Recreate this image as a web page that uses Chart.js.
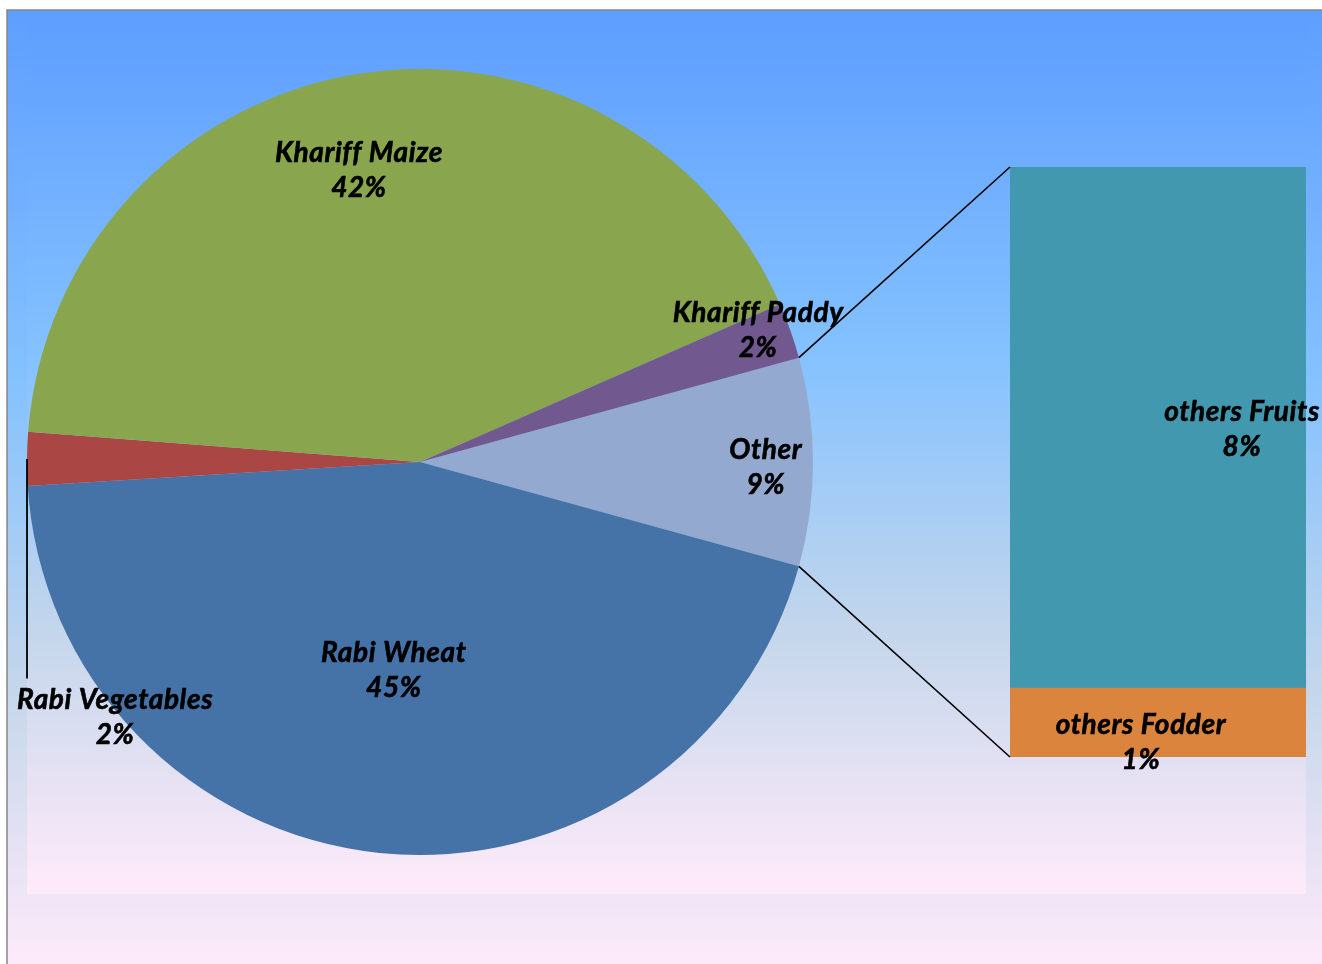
<!DOCTYPE html>
<html>
<head>
<meta charset="utf-8">
<script src="https://cdn.jsdelivr.net/npm/chart.js@4.4.1/dist/chart.umd.min.js"></script>
<style>
  html, body { margin: 0; padding: 0; background: #ffffff; }
  #wrap { position: relative; width: 1322px; height: 964px; overflow: hidden; }
  canvas { position: absolute; left: 0; top: 0; }
</style>
</head>
<body>
<div id="wrap">
  <canvas id="pie" width="1322" height="964"></canvas>
  <canvas id="bar" width="1322" height="964"></canvas>
</div>
<script>
// ---- data ----
const pieCategories = ["Rabi Wheat", "Rabi Vegetables", "Khariff Maize", "Khariff Paddy"];
const pieValues     = [44.75, 2.2, 42.2, 2.3];
const otherCategories = ["others Fodder", "others Fruits"];
const otherValues     = [1.0, 7.55];
const otherLabel = "Other";

// ---- styles ----
const pieColors = { "Other": "#93A9CF", "Rabi Wheat": "#4572A7", "Rabi Vegetables": "#AA4643",
                    "Khariff Maize": "#89A54E", "Khariff Paddy": "#71588F" };
const barColors = { "others Fodder": "#DB843D", "others Fruits": "#4198AF" };
const LABEL_FONT = "italic bold 28px Lato";
const LINE_GAP = 35;

const otherTotal = otherValues.reduce((a, b) => a + b, 0);
const grandTotal = pieValues.reduce((a, b) => a + b, 0) + otherTotal;
const pct = v => Math.round(v / grandTotal * 100) + "%";

const pieLabels = [otherLabel].concat(pieCategories);
const pieData = [otherTotal].concat(pieValues);
const otherDeg = otherTotal / grandTotal * 360;

// label placement (polar, relative to slice mid-angle)
const pieLabelPlacement = {
  "Other":           { frac: 0.880, dAngle: 0.9 },
  "Rabi Wheat":      { frac: 0.535, dAngle: 1.2 },
  "Rabi Vegetables": { frac: 1.013, dAngle: -40.45, leader: true },
  "Khariff Maize":   { frac: 0.758, dAngle: -2.2 },
  "Khariff Paddy":   { frac: 0.923, dAngle: -1.7 }
};
const barLabelPlacement = {
  "others Fodder": { dx: -17, dy: 20 },
  "others Fruits": { dx: 84, dy: 1.5 }
};

function daybreak(ctx, y0, y1) {
  const g = ctx.createLinearGradient(0, y0, 0, y1);
  g.addColorStop(0, "#5E9EFF");
  g.addColorStop(0.39, "#85C2FF");
  g.addColorStop(0.70, "#C4D6EB");
  g.addColorStop(1, "#FFEBFA");
  return g;
}

function drawTwoLines(ctx, x, y, l1, l2) {
  ctx.save();
  ctx.font = LABEL_FONT;
  if ("letterSpacing" in ctx) ctx.letterSpacing = "0.6px";
  ctx.fillStyle = "#000000";
  ctx.strokeStyle = "#000000";
  ctx.lineWidth = 0.6;
  ctx.textAlign = "center";
  ctx.textBaseline = "middle";
  ctx.fillText(l1, x, y - LINE_GAP / 2);
  ctx.strokeText(l1, x, y - LINE_GAP / 2);
  ctx.fillText(l2, x, y + LINE_GAP / 2);
  ctx.strokeText(l2, x, y + LINE_GAP / 2);
  ctx.restore();
}

const backgroundPlugin = {
  id: "bg",
  beforeDraw(chart) {
    const ctx = chart.ctx;
    ctx.save();
    ctx.fillStyle = "#ffffff";
    ctx.fillRect(0, 0, chart.width, chart.height);
    // outer chart area
    ctx.fillStyle = daybreak(ctx, 10, 975);
    ctx.fillRect(7, 10, 1322 - 7, 975 - 10);
    ctx.strokeStyle = "#868686";
    ctx.lineWidth = 1.5;
    ctx.beginPath();
    ctx.moveTo(7, 975); ctx.lineTo(7, 10); ctx.lineTo(1322, 10);
    ctx.stroke();
    // inner plot area
    ctx.fillStyle = daybreak(ctx, 20, 894);
    ctx.fillRect(27, 20, 1306 - 27, 894 - 20);
    ctx.restore();
  }
};

const pieLabelPlugin = {
  id: "pieLabels",
  afterDatasetsDraw(chart) {
    const ctx = chart.ctx;
    const meta = chart.getDatasetMeta(0);
    meta.data.forEach((arc, i) => {
      const name = chart.data.labels[i];
      const p = pieLabelPlacement[name];
      const mid = (arc.startAngle + arc.endAngle) / 2;
      const a = mid + p.dAngle * Math.PI / 180;
      const r = arc.outerRadius * p.frac;
      const x = arc.x + Math.cos(a) * r;
      const y = arc.y + Math.sin(a) * r;
      if (p.leader) {
        const sx = arc.x + Math.cos(mid) * arc.outerRadius;
        const sy = arc.y + Math.sin(mid) * arc.outerRadius;
        ctx.save();
        ctx.strokeStyle = "#000000";
        ctx.lineWidth = 1.8;
        ctx.beginPath();
        ctx.moveTo(sx, sy);
        ctx.lineTo(sx, y - LINE_GAP / 2 - 22);
        ctx.stroke();
        ctx.restore();
      }
      drawTwoLines(ctx, x, y, name, pct(chart.data.datasets[0].data[i]));
    });
  }
};

const pieChart = new Chart(document.getElementById("pie"), {
  type: "pie",
  data: {
    labels: pieLabels,
    datasets: [{
      data: pieData,
      backgroundColor: pieLabels.map(l => pieColors[l]),
      borderWidth: 0
    }]
  },
  options: {
    responsive: false,
    animation: false,
    events: [],
    rotation: 90 - otherDeg / 2,
    layout: { padding: { left: 27, top: 69, right: 1322 - 813, bottom: 964 - 855 } },
    plugins: { legend: { display: false }, tooltip: { enabled: false } }
  },
  plugins: [backgroundPlugin, pieLabelPlugin]
});

const connectorPlugin = {
  id: "connectors",
  afterDatasetsDraw(chart) {
    const ctx = chart.ctx;
    const arc = pieChart.getDatasetMeta(0).data[0];
    const bottomBar = chart.getDatasetMeta(0).data[0];
    const topBar = chart.getDatasetMeta(chart.data.datasets.length - 1).data[0];
    const left = topBar.x - topBar.width / 2;
    const p1 = { x: arc.x + Math.cos(arc.startAngle) * arc.outerRadius,
                 y: arc.y + Math.sin(arc.startAngle) * arc.outerRadius };
    const p2 = { x: arc.x + Math.cos(arc.endAngle) * arc.outerRadius,
                 y: arc.y + Math.sin(arc.endAngle) * arc.outerRadius };
    ctx.save();
    ctx.strokeStyle = "#000000";
    ctx.lineWidth = 1.6;
    ctx.beginPath();
    ctx.moveTo(p1.x, p1.y); ctx.lineTo(left, topBar.y);
    ctx.moveTo(p2.x, p2.y); ctx.lineTo(left, bottomBar.base);
    ctx.stroke();
    ctx.restore();
    // bar labels
    chart.data.datasets.forEach((ds, di) => {
      const el = chart.getDatasetMeta(di).data[0];
      const pl = barLabelPlacement[ds.label];
      const cx = el.x + pl.dx;
      const cy = (el.y + el.base) / 2 + pl.dy;
      drawTwoLines(ctx, cx, cy, ds.label, pct(ds.data[0]));
    });
  }
};

new Chart(document.getElementById("bar"), {
  type: "bar",
  data: {
    labels: [otherLabel],
    datasets: otherCategories.map((c, i) => ({
      label: c,
      data: [otherValues[i]],
      backgroundColor: barColors[c],
      borderWidth: 0,
      barPercentage: 1,
      categoryPercentage: 1
    }))
  },
  options: {
    responsive: false,
    animation: false,
    events: [],
    layout: { padding: { left: 1010, top: 167, right: 1322 - 1306, bottom: 964 - 757 } },
    scales: {
      x: { stacked: true, display: false },
      y: { stacked: true, display: false, min: 0, max: otherTotal }
    },
    plugins: { legend: { display: false }, tooltip: { enabled: false } }
  },
  plugins: [connectorPlugin]
});
</script>
</body>
</html>
